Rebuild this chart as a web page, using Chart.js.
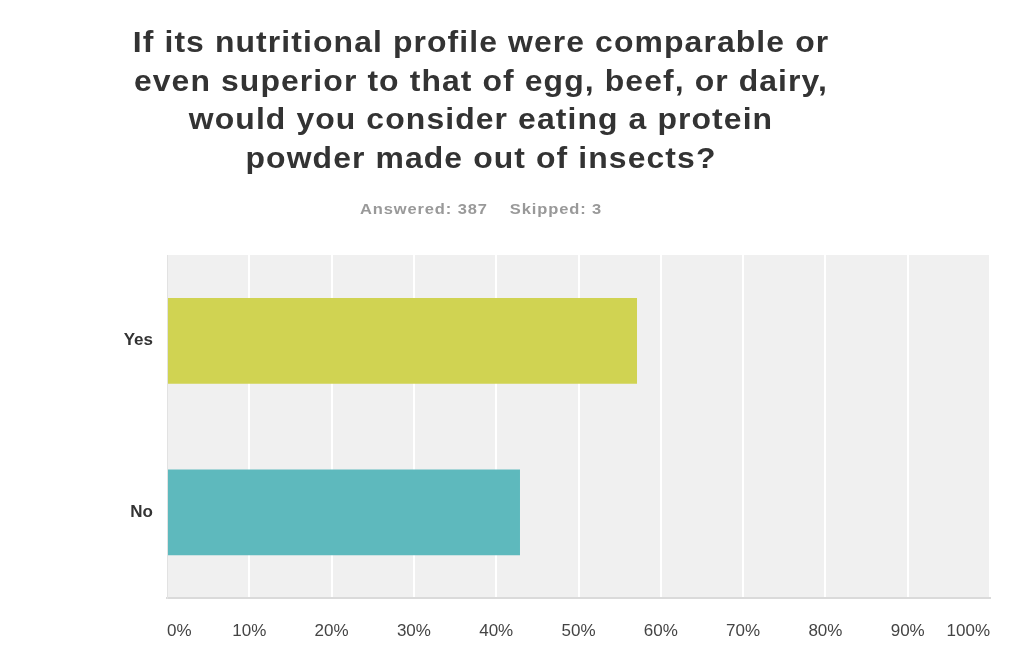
<!DOCTYPE html>
<html>
<head>
<meta charset="utf-8">
<script src="https://cdn.jsdelivr.net/npm/chart.js@4/dist/chart.umd.min.js"></script>
<style>
  html, body { margin: 0; padding: 0; background: #fff; }
  #wrap { position: relative; width: 1024px; height: 672px; }
  #title {
    position: absolute; left: 0; top: 23px; width: 962px; text-align: center;
    font: bold 29px "Liberation Sans", Arial, sans-serif; line-height: 38.5px; color: #333;
    letter-spacing: 1px; transform: scaleX(1.1); transform-origin: 481px 0;
  }
  #sub {
    position: absolute; left: 0; top: 200px; width: 962px; text-align: center;
    font: bold 15px "Liberation Sans", Arial, sans-serif; color: #999;
    letter-spacing: 0.8px; transform: scaleX(1.1); transform-origin: 481px 0;
  }
  #sub span + span { margin-left: 20px; }
  canvas { position: absolute; left: 0; top: 0; }
</style>
</head>
<body>
<div id="wrap">
  <canvas id="myChart" width="1024" height="672"></canvas>
  <div id="title">If its nutritional profile were comparable or<br>even superior to that of egg, beef, or dairy,<br>would you consider eating a protein<br>powder made out of insects?</div>
  <div id="sub"><span>Answered: 387</span><span>Skipped: 3</span></div>
</div>
<script>
var categories = ["Yes", "No"];
var responses = [57.11, 42.89];
var barColors = ["#d0d352", "#5eb9bd"];
var tickValues = [0, 10, 20, 30, 40, 50, 60, 70, 80, 90, 100];

// grey plot background behind the bars
var plotBackground = {
  id: "plotBackground",
  beforeDraw: function (chart) {
    var a = chart.chartArea;
    var c = chart.ctx;
    c.save();
    c.fillStyle = "#f0f0f0";
    c.fillRect(a.left, a.top, a.right - a.left, a.bottom - a.top);
    c.restore();
  },
};

var ctx = document.getElementById("myChart").getContext("2d");
var myChart = new Chart(ctx, {
  type: "bar",
  data: {
    labels: categories,
    datasets: [
      {
        data: responses,
        backgroundColor: barColors,
        borderWidth: 0,
        barPercentage: 0.5,
        categoryPercentage: 1,
      },
    ],
  },
  plugins: [plotBackground],
  options: {
    indexAxis: "y",
    responsive: false,
    animation: false,
    layout: {
      padding: { top: 255, right: 34, left: 0, bottom: 0 },
    },
    plugins: {
      legend: { display: false },
      tooltip: { enabled: false },
    },
    scales: {
      x: {
        min: 0,
        max: 100,
        afterBuildTicks: function (scale) {
          scale.ticks = tickValues.map(function (v) {
            return { value: v };
          });
        },
        afterFit: function (scale) {
          scale.height = 74;
        },
        grid: {
          color: "#ffffff",
          lineWidth: 2,
          drawTicks: false,
        },
        border: { color: "#dadada", width: 2 },
        ticks: {
          align: "inner",
          padding: 23,
          color: "#444",
          font: { family: "'Liberation Sans', Arial, sans-serif", size: 17 },
          callback: function (v) {
            return v + "%";
          },
        },
      },
      y: {
        afterFit: function (scale) {
          scale.width = 167;
        },
        grid: { display: false },
        border: { color: "#e2e2e2", width: 1 },
        ticks: {
          padding: 6,
          color: "#333",
          font: { family: "'Liberation Sans', Arial, sans-serif", size: 17, weight: "bold" },
        },
      },
    },
  },
});
</script>
</body>
</html>
